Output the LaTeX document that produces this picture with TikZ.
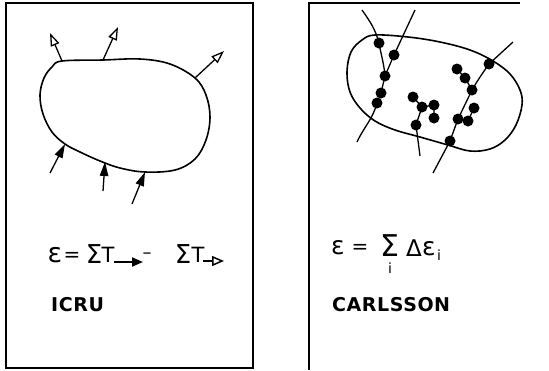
\documentclass[tikz,border=0pt]{standalone}
\usepackage{fontspec}
\setmainfont{DejaVu Sans}
\usetikzlibrary{arrows.meta}
\begin{document}
\begin{tikzpicture}[x=1pt,y=-1pt,
  frame/.style={line width=1.6pt},
  blob/.style={line width=1.6pt},
  outarr/.style={line width=1.3pt,-{Triangle[open,length=13pt,width=9pt,line width=1.3pt]}},
  inarr/.style={line width=1.3pt,-{Triangle[length=14pt,width=8.5pt]}},
  eqarr/.style={line width=2pt,-{Triangle[length=11pt,width=9pt]}},
  eqoarr/.style={line width=1.8pt,-{Triangle[open,length=12pt,width=10pt,line width=1.5pt]}},
  dot/.style={circle,fill=black,inner sep=0pt,minimum size=11pt},
  trk/.style={line width=1.3pt},
  lbl/.style={font=\fontsize{19}{19}\selectfont\bfseries\addfontfeatures{LetterSpace=3},inner sep=0pt,anchor=west},
  eq/.style={inner sep=0pt}
]
\useasboundingbox (0,0) rectangle (549,370);
% frames
\draw[frame] (6,3) rectangle (253,368);
\draw[frame] (520,3) -- (309,3) -- (309,370);

% ---- left blob
\draw[blob] plot[smooth cycle,tension=0.6] coordinates {
 (62,61) (103,60) (140,59) (170,64) (195,78) (206,95) (210,117) (206,140)
 (195,159) (175,170) (145,172) (120,168) (100,161) (80,152) (65,144)
 (52,132) (43,114) (40,95) (44,78) (52,67)};
\coordinate (p1) at (62,61);  \coordinate (q1) at (50,33);
\coordinate (p2) at (103,60); \coordinate (q2) at (118,27);
\coordinate (p3) at (195,78); \coordinate (q3) at (224,51);
\draw[outarr] (p1) -- (q1);
\draw[outarr] (p2) -- (q2);
\draw[outarr] (p3) -- (q3);
\coordinate (r1) at (50,173);  \coordinate (s1) at (65,144);
\coordinate (r2) at (103,191); \coordinate (s2) at (105,162);
\coordinate (r3) at (132,204); \coordinate (s3) at (145,172);
\draw[inarr] (r1) -- (s1);
\draw[inarr] (r2) -- (s2);
\draw[inarr] (r3) -- (s3);

% ---- left equation
\node[eq,font=\fontsize{27}{27}\selectfont] (le1) at (55,255) {ε};
\node[eq,font=\fontsize{20}{20}\selectfont] (leq) at (72,257) {=};
\node[eq,font=\fontsize{26}{26}\selectfont] (ls1) at (94,254) {Σ};
\node[eq,font=\fontsize{21}{21}\selectfont] (lt1) at (108,255) {T};
\coordinate (la1) at (114,262); \coordinate (lb1) at (143,262);
\draw[eqarr] (la1) -- (lb1);
\node[eq,font=\fontsize{18}{18}\selectfont] (lmin) at (147,256) {–};
\node[eq,font=\fontsize{26}{26}\selectfont] (ls2) at (183,254) {Σ};
\node[eq,font=\fontsize{21}{21}\selectfont] (lt2) at (198,255) {T};
\coordinate (la2) at (203,261); \coordinate (lb2) at (224,261);
\draw[eqoarr] (la2) -- (lb2);
\node[lbl] (icru) at (51,305) {ICRU};

% ---- right blob
\draw[blob] plot[smooth cycle,tension=0.6] coordinates {
 (375,35) (408,37) (440,42) (470,50) (493,61) (510,74) (520,90) (522,105)
 (516,125) (505,140) (490,149) (470,151) (448,145) (420,137) (395,130)
 (375,121) (360,108) (350,92) (347,72) (351,52) (362,40)};

% tracks
\coordinate (a0) at (362,10);
\node[dot] (a1) at (379,43) {};
\node[dot] (a2) at (385,76) {};
\node[dot] (a3) at (381,93) {};
\node[dot] (a4) at (377,103) {};
\coordinate (a5) at (357,142);
\coordinate (b0) at (415,10);
\node[dot] (b1) at (394,55) {};
\draw[trk] (a0) to[out=-55,in=105] (a1.center) to[out=-80,in=95] (a2.center) -- (a3.center) -- (a4.center) to[out=-105,in=65] (a5);
\draw[trk] (b0) -- (b1.center) -- (a2.center);

\node[dot] (c1) at (413,97) {};
\node[dot] (c2) at (422,107) {};
\node[dot] (c3) at (434,105) {};
\node[dot] (c4) at (434,118) {};
\node[dot] (c5) at (416,125) {};
\coordinate (c6) at (420,156);
\draw[trk] (c1.center) -- (c2.center) -- (c3.center) -- (c4.center);
\draw[trk] (c2.center) -- (c5.center) -- (c6);

\coordinate (d0) at (513,42);
\node[dot] (d1) at (489,64) {};
\node[dot] (d2) at (472,90) {};
\node[dot] (d3) at (458,119) {};
\node[dot] (d4) at (450,141) {};
\coordinate (d5) at (433,173);
\draw[trk] (d0) -- (d1.center) to[out=-125,in=60] (d2.center) -- (d3.center) -- (d4.center) -- (d5);
\node[dot] (e1) at (457,69) {};
\node[dot] (e2) at (465,78) {};
\draw[trk] (e1.center) -- (e2.center) -- (d2.center);
\node[dot] (f1) at (474,108) {};
\node[dot] (f2) at (468,121) {};
\draw[trk] (f1.center) -- (f2.center) -- (d3.center);

% ---- right equation
\node[eq,font=\fontsize{25}{25}\selectfont] (re1) at (338,248) {ε};
\node[eq,font=\fontsize{20}{20}\selectfont] (req) at (360,249) {=};
\node[eq,font=\fontsize{30}{30}\selectfont] (rs) at (390,246) {Σ};
\node[eq,font=\fontsize{14}{14}\selectfont] (ri1) at (390,268) {i};
\node[eq,font=\fontsize{23}{23}\selectfont] (rd) at (414,248) {Δ};
\node[eq,font=\fontsize{25}{25}\selectfont] (re2) at (429,249) {ε};
\node[eq,font=\fontsize{14}{14}\selectfont] (ri2) at (439,255) {i};
\node[lbl] (carl) at (332,305) {CARLSSON};
\end{tikzpicture}
\end{document}
